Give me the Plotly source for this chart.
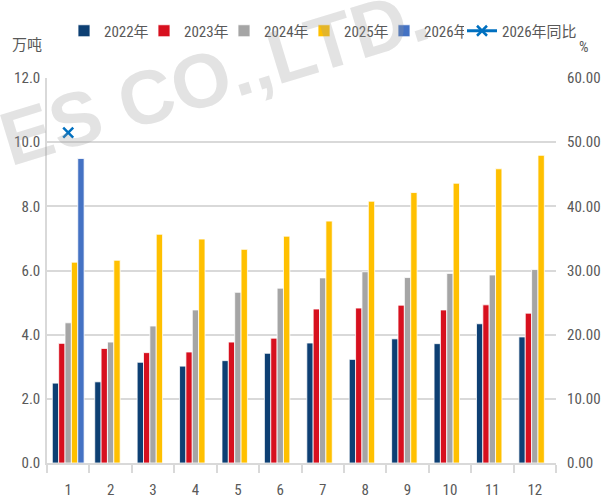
import plotly.graph_objects as go

months = [str(m) for m in range(1, 13)]

v2022 = [2.49, 2.53, 3.14, 3.02, 3.19, 3.42, 3.74, 3.23, 3.87, 3.72, 4.34, 3.93]
v2023 = [3.73, 3.57, 3.44, 3.46, 3.77, 3.89, 4.80, 4.83, 4.92, 4.77, 4.93, 4.67]
v2024 = [4.37, 3.77, 4.27, 4.77, 5.32, 5.45, 5.77, 5.96, 5.78, 5.91, 5.86, 6.03]
v2025 = [6.26, 6.32, 7.13, 6.98, 6.66, 7.07, 7.54, 8.16, 8.43, 8.72, 9.17, 9.59]
v2026 = [9.49] + [None] * 11
yoy2026 = [51.5] + [None] * 11

bar_series = [
    ("2022年", v2022, "#0D3F73"),
    ("2023年", v2023, "#D7101E"),
    ("2024年", v2024, "#A5A5A5"),
    ("2025年", v2025, "#FFC000"),
    ("2026年", v2026, "#4472C4"),
]

FONT = "Roboto Condensed, Noto Sans CJK SC, sans-serif"
TXT = "#595959"
GRID = "#D9D9D9"

# plot area in pixels
L, R, T, B = 47, 45, 78, 37
W, H = 601, 500
pw, ph = W - L - R, H - T - B


def px(x, y):
    """pixel position -> paper coordinates"""
    return (x - L) / pw, (H - B - y) / ph


fig = go.Figure()

for name, vals, color in bar_series:
    fig.add_trace(go.Bar(
        x=months, y=vals, name=name, legend="legend",
        marker=dict(color=color, line=dict(color="white", width=0.8)),
    ))

fig.add_trace(go.Scatter(
    x=months, y=yoy2026, name="2026年同比", yaxis="y2", legend="legend2",
    mode="lines+markers",
    line=dict(color="#0070C0", width=3),
    marker=dict(symbol="x-thin", size=10, line=dict(color="#0070C0", width=2.5)),
))

lx, ly = px(64, 31)
l2x, _ = px(462, 31)
ux, uy = px(27, 44)
pcx, pcy = px(584, 47)
wx, wy = px(214, 76)

legend_style = dict(
    orientation="h", y=ly, xanchor="left", yanchor="middle",
    font=dict(size=15, color=TXT), traceorder="normal",
    itemwidth=30, bgcolor="rgba(0,0,0,0)",
)

fig.update_layout(
    width=W, height=H,
    margin=dict(l=L, r=R, t=T, b=B, autoexpand=False),
    paper_bgcolor="white", plot_bgcolor="white",
    font=dict(family=FONT, size=15, color=TXT),
    barmode="group", bargap=0.25, bargroupgap=0,
    showlegend=True,
    legend=dict(x=lx, entrywidth=35, **legend_style),
    legend2=dict(x=l2x, **legend_style),
    xaxis=dict(
        type="category", range=[-0.5, len(months) - 0.5],
        tickson="boundaries", ticks="outside", ticklen=8,
        tickcolor=GRID, tickwidth=1.5, showline=True, linecolor=GRID, linewidth=2,
        showgrid=False, ticklabelstandoff=12, tickfont=dict(size=15, color=TXT),
    ),
    yaxis=dict(
        range=[0, 12], dtick=2, tickformat=".1f", showgrid=True, gridcolor=GRID,
        gridwidth=2, showline=True, linecolor=GRID, linewidth=1.5, zeroline=False,
        ticks="", ticklabelstandoff=2, tickfont=dict(size=15, color=TXT),
    ),
    yaxis2=dict(
        range=[0, 60], dtick=10, tickformat=".2f", overlaying="y", side="right",
        showgrid=False, zeroline=False, showline=False, ticks="",
        ticklabelstandoff=10, tickfont=dict(size=15, color=TXT),
    ),
    annotations=[
        dict(text="万吨", x=ux, y=uy, xref="paper", yref="paper", showarrow=False,
             xanchor="center", yanchor="middle",
             font=dict(size=15, color=TXT, family="Noto Sans CJK SC")),
        dict(text="%", x=pcx, y=pcy, xref="paper", yref="paper", showarrow=False,
             xanchor="center", yanchor="middle",
             font=dict(size=15, color=TXT)),
        dict(text="ES CO.,LTD.", x=wx, y=wy, xref="paper", yref="paper",
             showarrow=False, textangle=-17, xanchor="center", yanchor="middle",
             font=dict(size=76, color="rgba(150,150,150,0.27)",
                       family="Liberation Sans, sans-serif", weight="bold")),
    ],
)

fig.write_html("out.html")
